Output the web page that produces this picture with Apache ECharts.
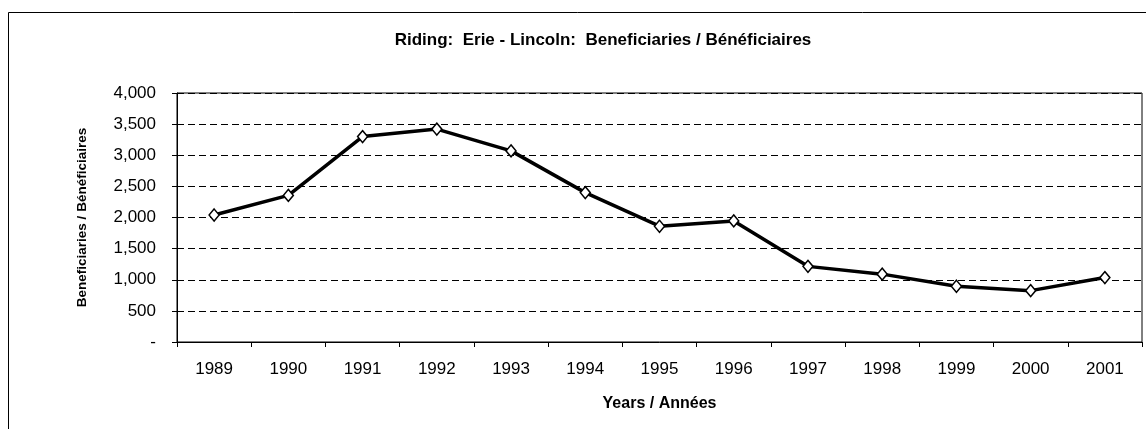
<!DOCTYPE html>
<html>
<head>
    <meta charset="UTF-8">
    <title>Riding: Erie - Lincoln</title>
    <script src="https://cdn.jsdelivr.net/npm/echarts/dist/echarts.min.js"></script>
    <style>
        html, body { margin: 0; padding: 0; background: #fff; }
    </style>
</head>
<body>
<div id="chart" style="width: 1146px; height: 429px;"></div>

<script>
    const years = ['1989', '1990', '1991', '1992', '1993', '1994', '1995',
                   '1996', '1997', '1998', '1999', '2000', '2001'];
    const beneficiaries = [2040, 2355, 3300, 3420, 3070, 2400, 1860,
                           1945, 1215, 1090, 895, 825, 1035];

    const font = 'Arial, "Liberation Sans", sans-serif';

    const chart = echarts.init(document.getElementById('chart'));
    const option = {
        animation: false,
        backgroundColor: '#fff',
        textStyle: { fontFamily: font },
        title: {
            text: 'Riding:  Erie - Lincoln:  Beneficiaries / Bénéficiaires',
            left: 598,
            top: 27,
            textAlign: 'center',
            textStyle: { fontSize: 17, fontWeight: 'bold', color: '#000', fontFamily: font }
        },
        graphic: [{
            type: 'rect',
            shape: { x: 8.5, y: 12.5, width: 1300, height: 600 },
            style: { fill: 'none', stroke: '#000', lineWidth: 1 },
            silent: true
        }],
        grid: {
            left: 177,
            right: 4,
            top: 93,
            bottom: 87,
            show: true,
            borderColor: '#000',
            borderWidth: 1,
            backgroundColor: '#fff'
        },
        xAxis: {
            type: 'category',
            data: years,
            boundaryGap: true,
            name: 'Years / Années',
            nameLocation: 'middle',
            nameGap: 54,
            nameTextStyle: { fontSize: 16, fontWeight: 'bold', color: '#000' },
            axisLine: { lineStyle: { color: '#000', width: 1 } },
            axisTick: { show: true, length: 5, lineStyle: { color: '#000' } },
            axisLabel: { color: '#000', fontSize: 17, margin: 19 },
            splitLine: { show: false }
        },
        yAxis: {
            type: 'value',
            min: 0,
            max: 4000,
            interval: 500,
            name: 'Beneficiaries / Bénéficiaires',
            nameLocation: 'middle',
            nameGap: 88,
            nameTextStyle: { fontSize: 13.5, fontWeight: 'bold', color: '#000' },
            axisLine: { show: true, lineStyle: { color: '#000', width: 1 } },
            axisTick: { show: true, length: 5, lineStyle: { color: '#000' } },
            axisLabel: {
                color: '#000',
                fontSize: 17,
                margin: 21,
                formatter: v => v === 0 ? '-' : v.toLocaleString('en-US')
            },
            splitLine: {
                show: true,
                lineStyle: { color: '#000', width: 1, type: [7, 4] }
            }
        },
        series: [{
            name: 'Beneficiaries',
            type: 'line',
            data: beneficiaries,
            symbol: 'diamond',
            symbolSize: [10, 12],
            showAllSymbol: true,
            lineStyle: { color: '#000', width: 3.5 },
            itemStyle: { color: '#fff', borderColor: '#000', borderWidth: 1.5 }
        }]
    };

    chart.setOption(option);
</script>
</body>
</html>
